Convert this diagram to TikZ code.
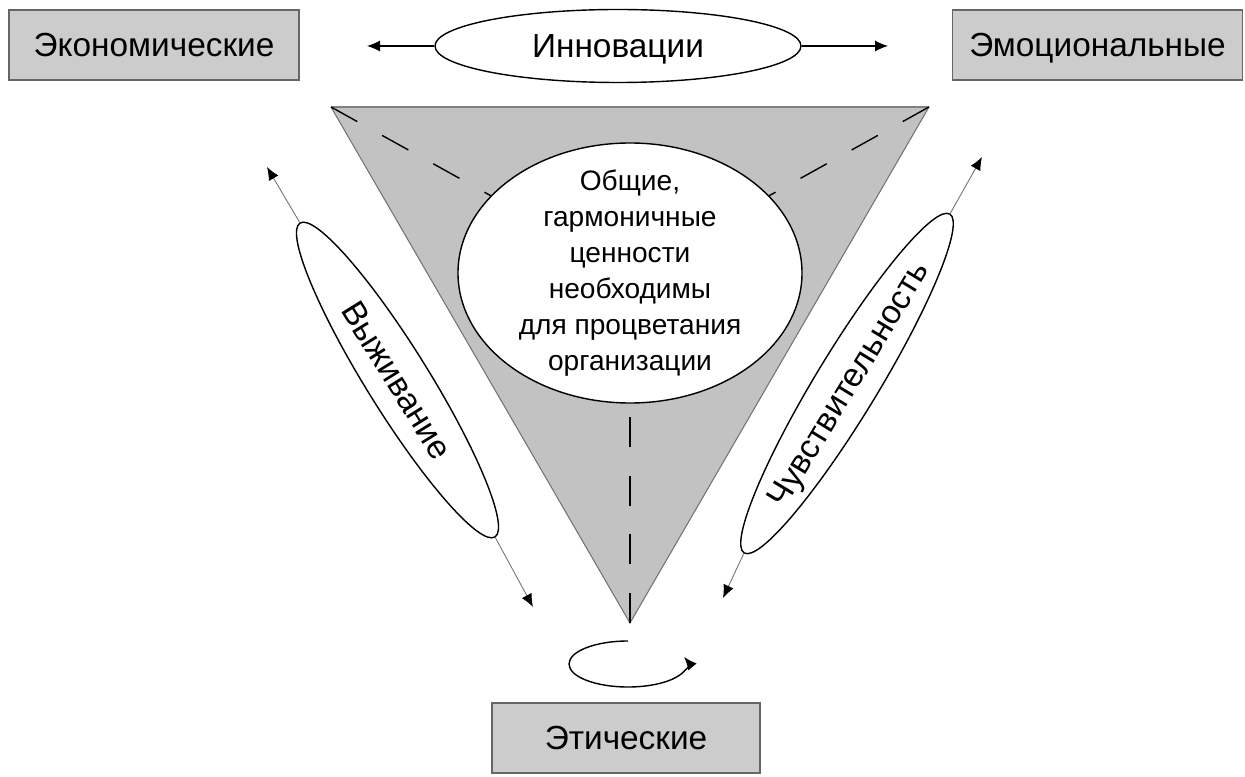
\documentclass[tikz,border=0pt]{standalone}
\usepackage{fontspec}
\setmainfont{Liberation Sans}
\usetikzlibrary{shapes.geometric,arrows.meta}
\begin{document}
\begin{tikzpicture}[
    valbox/.style={draw=black!60, line width=0.6pt, fill=black!20, minimum width=5.8cm, minimum height=1.4cm, text height=13.6pt, text depth=0pt, font=\fontsize{19}{23}\selectfont},
    oval/.style={ellipse, draw, line width=0.8pt, fill=white, inner sep=0pt, text height=13.6pt, text depth=0pt, font=\fontsize{19}{23}\selectfont},
    tip/.style={-{Latex[length=2.6mm,width=2.2mm,color=black]}},
    thin arrow/.style={tip, draw=black!55, line width=0.5pt},
    dashline/.style={line width=0.8pt, dash pattern=on 0.6cm off 0.57cm}
  ]
    \useasboundingbox (0,0) rectangle (24.9,15.52);
    \node[valbox] (econ) at (3.08,14.62) {Экономические};
    \node[valbox] (emot) at (21.95,14.62) {Эмоциональные};
    \node[valbox, minimum width=5.36cm] (ethic) at (12.52,0.76) {Этические};
    \node[oval, minimum width=7.32cm, minimum height=1.46cm] (innov) at (12.36,14.60) {Инновации};
    \coordinate (innovL) at (7.34,14.60);
    \coordinate (innovR) at (17.76,14.60);
    \draw[tip, line width=0.6pt] (innov.west) -- (innovL);
    \draw[tip, line width=0.6pt] (innov.east) -- (innovR);
    \coordinate (tA) at (6.62,13.38);
    \coordinate (tB) at (18.58,13.38);
    \coordinate (tC) at (12.60,3.06);
    \fill[black!24] (tA) -- (tB) -- (tC) -- cycle;
    \draw[black!55, line width=0.6pt] (tA) -- (tC) -- (tB);
    \draw[black!50, line width=1.2pt] (tA) -- (tB);
    \coordinate (mid) at (12.60,10.06);
    \draw[dashline] (tA) -- (mid);
    \draw[dashline] (tB) -- (mid);
    \draw[dashline] (tC) -- (mid);
    \node[oval, minimum width=6.88cm, minimum height=5.2cm] (core) at (mid) {};
    \node[align=center, font=\fontsize{16}{20.5}\selectfont] (coretext) at (core.center)
      {Общие,\\гармоничные\\ценности\\необходимы\\для процветания\\организации};
    \node[oval, rotate=-58.16, minimum width=7.39cm, minimum height=1.25cm] (surv) at (7.95,7.92) {Выживание};
    \coordinate (survUp) at (5.34,12.18);
    \coordinate (survDn) at (10.66,3.38);
    \draw[thin arrow] (surv.west) -- (survUp);
    \draw[thin arrow] (surv.east) -- (survDn);
    \node[oval, rotate=58.74, minimum width=7.32cm, minimum height=1.25cm] (sens) at (16.94,7.85) {Чувствительность};
    \coordinate (sensUp) at (19.64,12.38);
    \coordinate (sensDn) at (14.46,3.56);
    \draw[thin arrow] (sens.east) -- (sensUp);
    \draw[thin arrow] (sens.west) -- (sensDn);
    \coordinate (loop) at (12.56,2.70);
    \draw[tip, line width=0.8pt] (loop) arc[start angle=90, end angle=378, x radius=1.18cm, y radius=0.46cm];
  \end{tikzpicture}
\end{document}
